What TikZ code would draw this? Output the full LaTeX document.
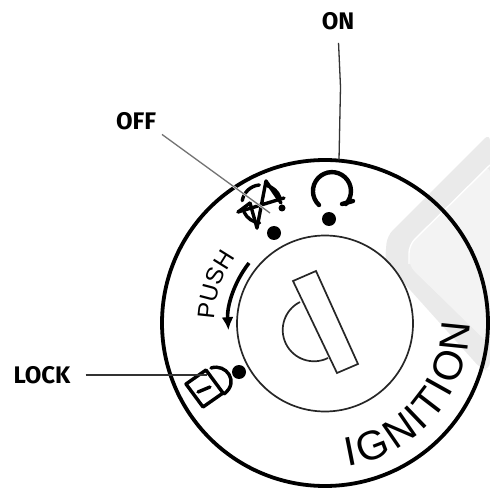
\documentclass[tikz,border=0pt]{standalone}
\usepackage{xcolor}
\usepackage{fontspec}
\usepackage{tikz}
\usetikzlibrary{arrows.meta,decorations.text}
\setmainfont{Fira Sans}
\newfontfamily\dialfont{Liberation Sans}
\definecolor{markgray}{HTML}{EAEAEA}
\definecolor{marklight}{HTML}{F3F3F3}
\begin{document}
\begin{tikzpicture}[x=1pt,y=1pt, >=Latex,
  lab/.style={font=\fontsize{24}{26}\selectfont\bfseries,inner sep=1pt},
  leader/.style={draw=black!80,line width=1.3pt},
  stopdot/.style={circle,fill=black,minimum size=14pt,inner sep=0pt},
  sym/.style={line width=3.4pt,line cap=round,line join=round},
  keyline/.style={line width=1.7pt,draw=black!85}]
\useasboundingbox (0,0) rectangle (490,488);
% watermark behind the dial
\fill[markgray,rounded corners=8pt] (490,355)--(387,252)--(385,226)--(482,118)--(490,118)--cycle;
\fill[marklight,rounded corners=8pt] (490,323)--(409,243)--(409,222)--(490,143)--cycle;
\draw[white,line width=1.4pt,rounded corners=8pt] (490,323)--(409,243)--(409,224);
% dial
\node[circle,draw,line width=3.8pt,minimum size=326pt,inner sep=0pt] (ring) at (325,165) {};
\node[circle,draw,keyline,fill=white,minimum size=176pt,inner sep=0pt] (face) at (325,164.5) {};
\coordinate (hub) at (325,165);
% key slot
\draw[keyline] (293,207)--(316,217)--(358,124)--(337,115)--cycle;
\draw[keyline] (300,186) arc[start angle=116.6,end angle=296.6,radius=31.3];
% stops
\node[stopdot] (dotoff) at (274,255) {};
\node[stopdot] (doton) at (329,269) {};
\node[stopdot] (dotlock) at (239,116) {};
% on symbol
\draw[sym,line width=4.4pt] (319,283) arc[start angle=227,end angle=-43,radius=19];
\draw[sym,line width=4.4pt] (342,284)--(353,287);
% off symbol
\draw[sym] (266,307)--(257,260) (238,276)--(284,290);
\draw[sym] (266,307)--(281,285) (250,285)--(257,260) (250,285)--(238,276);
\draw[sym] (259.3,303) arc[start angle=95,end angle=170,radius=19];
\draw[sym] (267,302.4) arc[start angle=75,end angle=20,radius=19];
\draw[sym] (244,276) arc[start angle=205,end angle=265,radius=19];
\fill (282,280) circle (3.5pt);
% lock symbol
\draw[sym] (186,104)--(203,81)--(223,95)--(206,118)--cycle;
\draw[sym] (211,120) .. controls (226,125) and (240,106) .. (224,94);
\draw[sym] (198,96)--(210,101);
% push arrow and dial texts
\draw[line width=3.6pt,-{Latex[length=13pt,width=12pt]}] (249,225) arc[start angle=142,end angle=184,radius=98];
\path[decorate,decoration={text along path,text align={fit to path},
  text={|\dialfont\fontsize{24}{24}\selectfont|PUSH}}]
  ([shift={(178:111pt)}]hub) arc[start angle=178,end angle=145,radius=111pt];
\path[decorate,decoration={text along path,text align={fit to path},
  text={|\dialfont\fontsize{41}{41}\selectfont|IGNITION}}]
  ([shift={(-81:145pt)}]hub) arc[start angle=-81,end angle=0,radius=145pt];
% labels
\node[lab] (on) at (338,467) {ON};
\node[lab] (off) at (136,367) {OFF};
\node[lab] (lock) at (42,113) {LOCK};
\coordinate (onmid) at (340.5,401);
\coordinate (onend) at (339,328);
\coordinate (offend) at (270,275);
\coordinate (lockend) at (207,113);
\draw[leader,shorten <=12pt] (on.south)--(onmid);
\draw[leader] (onmid)--(onend);
\draw[white,line width=2.2pt,shorten <=6pt] (off.south east)--(offend);
\draw[leader,draw=black!55,line width=1.3pt,shorten <=6pt] (off.south east)--(offend);
\draw[leader,shorten <=14pt] (lock.east)--(lockend);
\end{tikzpicture}
\end{document}
